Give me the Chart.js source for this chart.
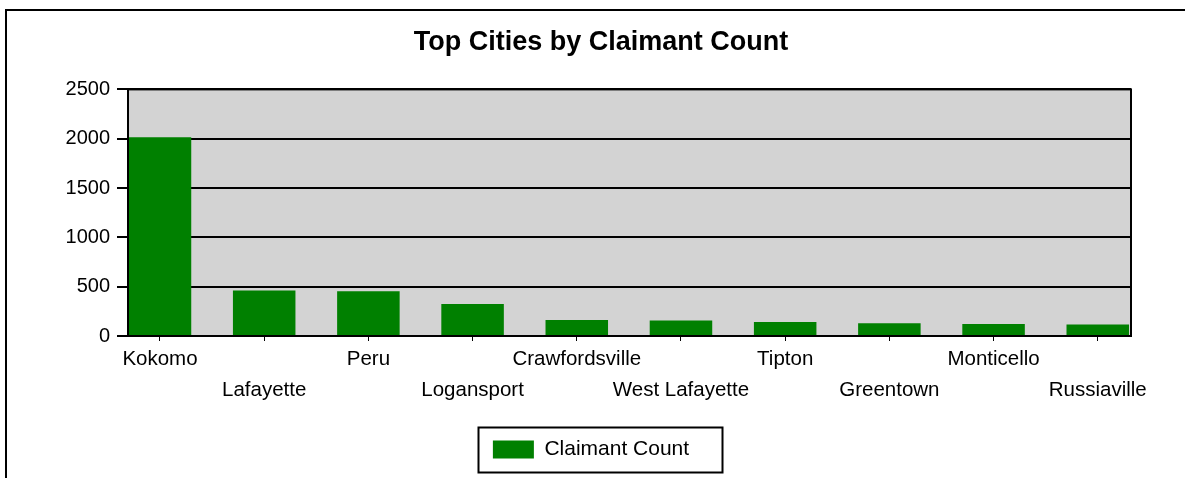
<!DOCTYPE html>
<html>
<head>
<meta charset="utf-8">
<script src="https://cdn.jsdelivr.net/npm/chart.js@4"></script>
<style>
  body { margin: 0; background: #fff; overflow: hidden; }
  #frame {
    position: absolute; left: 5px; top: 9px; width: 1200px; height: 480px;
    border-top: 2px solid #000; border-left: 2px solid #000;
  }
  #wrap { position: absolute; left: 0; top: 0; width: 1188px; height: 467px; }
</style>
</head>
<body>
<div id="frame">
  <div id="wrap"><canvas id="myChart"></canvas></div>
</div>
<script>
// data
var cities = ['Kokomo', 'Lafayette', 'Peru', 'Logansport', 'Crawfordsville',
              'West Lafayette', 'Tipton', 'Greentown', 'Monticello', 'Russiaville'];
var claimantCount = [2015, 461, 454, 325, 162, 156, 142, 129, 122, 116];
var yTicks = [0, 500, 1000, 1500, 2000, 2500];

var fontFamily = '"Liberation Sans", Arial, sans-serif';

// grey plot background + black frame round the plot
var plotArea = {
    id: 'plotArea',
    beforeDraw: function(chart) {
        var a = chart.chartArea, ctx = chart.ctx;
        ctx.save();
        ctx.fillStyle = '#d3d3d3';
        ctx.fillRect(a.left, a.top, a.right - a.left, a.bottom - a.top);
        ctx.restore();
    },
    afterDraw: function(chart) {
        var a = chart.chartArea, ctx = chart.ctx;
        ctx.save();
        ctx.strokeStyle = '#000';
        ctx.lineWidth = 2;
        ctx.strokeRect(a.left, a.top, a.right - a.left, a.bottom - a.top);
        // box round the legend
        var lg = chart.legend;
        var cx = chart.width / 2 - 0.5;
        var cy = lg.top + lg.height / 2;
        ctx.strokeRect(cx - 122, cy - 22, 244, 45);
        ctx.restore();
    }
};

// the legend entry sits a little left of the box centre
var legendShift = {
    id: 'legendShift',
    afterLayout: function(chart) {
        chart.legend.left -= 10;
        chart.legend.right -= 10;
    }
};

var ctx = document.getElementById('myChart').getContext('2d');
var myChart = new Chart(ctx, {
    type: 'bar',
    data: {
        datasets: [{
            label: 'Claimant Count',
            data: claimantCount.map((v, i) => ({ x: i, y: v })),
            backgroundColor: '#008000',
            borderWidth: 0,
            barPercentage: 1,
            categoryPercentage: 0.6
        }]
    },
    options: {
        responsive: true,
        maintainAspectRatio: false,
        animation: false,
        layout: { padding: { left: 0, right: 0, top: 0, bottom: 8 } },
        scales: {
            x: {
                type: 'linear',
                offset: false,
                min: -0.307,
                max: 9.319,
                afterBuildTicks: function(scale) {
                    scale.ticks = cities.map((c, i) => ({ value: i }));
                },
                afterFit: function(scale) { scale.height = 93; },
                grid: { offset: false, drawOnChartArea: false, drawTicks: true, tickLength: 5, color: '#000', lineWidth: 1 },
                border: { display: true, color: '#000', width: 2 },
                ticks: {
                    autoSkip: false, maxRotation: 0, minRotation: 0, padding: 3,
                    color: '#000',
                    font: { family: fontFamily, size: 20.5, lineHeight: 1.5 },
                    callback: function(v) {
                        return v % 2 ? ['', cities[v]] : cities[v];
                    }
                }
            },
            y: {
                min: 0,
                max: 2500,
                afterBuildTicks: function(scale) {
                    scale.ticks = yTicks.map(v => ({ value: v }));
                },
                afterFit: function(scale) { scale.width = 121; },
                grid: { color: '#000', lineWidth: 2, tickLength: 11 },
                border: { display: true, color: '#000', width: 2 },
                ticks: {
                    padding: 7, color: '#000',
                    font: { family: fontFamily, size: 20 },
                    callback: function(v) { return String(v); }
                }
            },
            // empty right-hand axis, only to keep the plot clear of the right edge
            yRight: {
                position: 'right',
                display: true,
                afterFit: function(scale) { scale.width = 64; },
                grid: { display: false },
                border: { display: false },
                ticks: { display: false }
            }
        },
        plugins: {
            title: {
                display: true,
                text: 'Top Cities by Claimant Count',
                color: '#000',
                font: { family: fontFamily, size: 27, weight: 'bold', lineHeight: 1.2 },
                padding: { top: 15, bottom: 31 }
            },
            legend: {
                position: 'bottom',
                labels: {
                    boxWidth: 41, boxHeight: 18, padding: 10, color: '#000',
                    font: { family: fontFamily, size: 21 }
                }
            },
            tooltip: { enabled: false }
        }
    },
    plugins: [plotArea, legendShift]
});
</script>
</body>
</html>
